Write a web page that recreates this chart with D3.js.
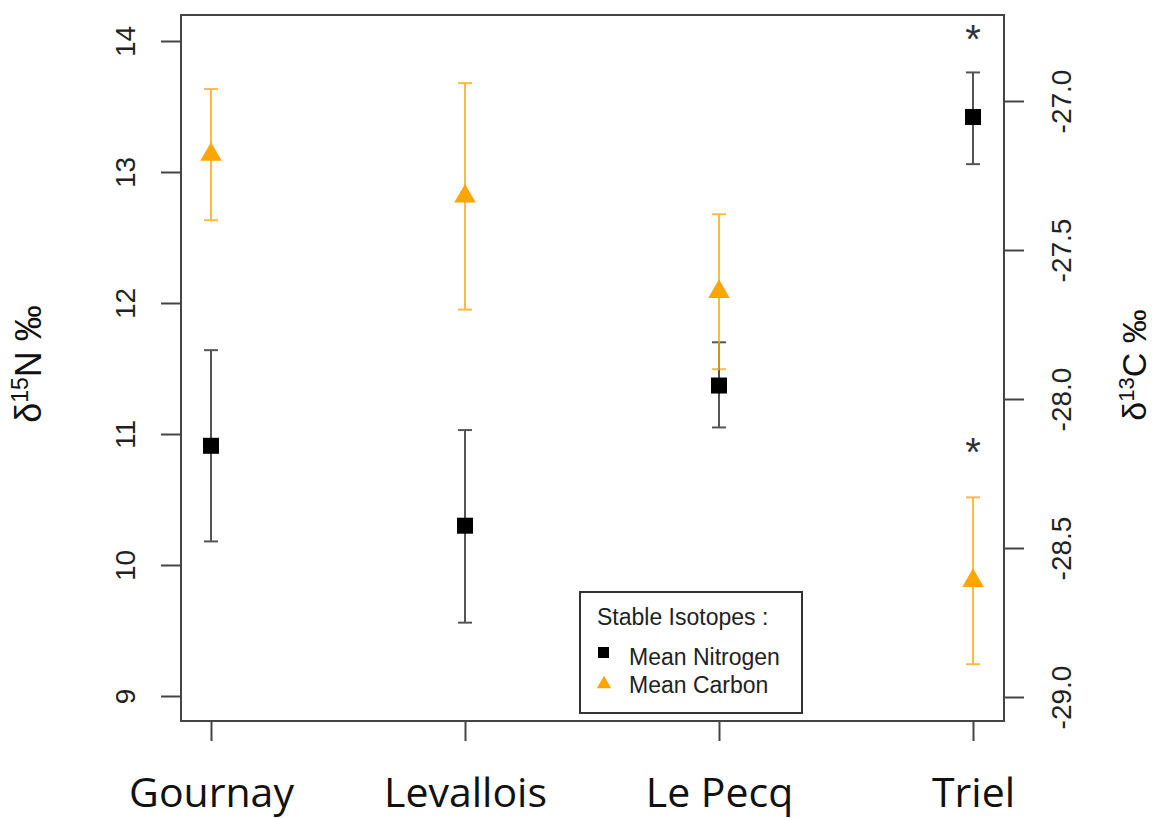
<!DOCTYPE html>
<meta charset="utf-8">
<script src="https://d3js.org/d3.v7.min.js"></script>
<style>
  body { margin: 0; background: #fff; }
  text { font-family: "Liberation Sans", Arial, sans-serif; }
</style>
<div id="chart"></div>
<script>
// sites along the x axis
var sites = ["Gournay", "Levallois", "Le Pecq", "Triel"];

// nitrogen (left axis): mean, lower and upper ends of the error bar
var nMean = [10.91, 10.30, 11.37, 13.42];
var nLow  = [10.18, 9.56, 11.05, 13.06];
var nHigh = [11.64, 11.03, 11.70, 13.76];

// carbon (right axis)
var cMean = [-27.18, -27.32, -27.64, -28.61];
var cLow  = [-27.40, -27.70, -27.90, -28.89];
var cHigh = [-26.96, -26.94, -27.38, -28.33];

// significance marks (which site gets an asterisk)
var starN = ["Triel"];
var starC = ["Triel"];

var nTicks = [9, 10, 11, 12, 13, 14];
var cTicks = [-29.0, -28.5, -28.0, -27.5, -27.0];

var W = 1156, H = 818;
var box = {left: 181, right: 1004, top: 15, bottom: 721};

var svg = d3.select("#chart").append("svg")
  .attr("width", W).attr("height", H);

var x = d3.scalePoint().domain(sites).range([211, 973]);
var yN = d3.scaleLinear().domain([9, 14]).range([696, 41]);
var yC = d3.scaleLinear().domain([-29, -27]).range([697, 101]);

var axisColor = "#444";

// left axis
var gl = svg.append("g")
  .attr("transform", "translate(" + box.left + ",0)")
  .call(d3.axisLeft(yN).tickValues(nTicks).tickSize(20).tickFormat(d3.format("d")));
gl.select(".domain").remove();
gl.selectAll(".tick line").attr("stroke", axisColor).attr("stroke-width", 2);
gl.selectAll(".tick text")
  .attr("transform", "rotate(-90)")
  .attr("x", 0).attr("y", -56).attr("dy", null)
  .attr("dominant-baseline", "central")
  .attr("text-anchor", "middle")
  .style("font-size", "28px").attr("fill", "#222");

// right axis
var gr = svg.append("g")
  .attr("transform", "translate(" + box.right + ",0)")
  .call(d3.axisRight(yC).tickValues(cTicks).tickSize(20).tickFormat(d3.format(".1f")));
gr.select(".domain").remove();
gr.selectAll(".tick line").attr("stroke", axisColor).attr("stroke-width", 2);
gr.selectAll(".tick text")
  .text(function(d) { return d3.format(".1f")(d).replace("\u2212", "-"); })
  .attr("transform", "rotate(-90)")
  .attr("x", 0).attr("y", 57).attr("dy", null)
  .attr("dominant-baseline", "central")
  .attr("text-anchor", "middle")
  .style("font-size", "28px").attr("fill", "#222");

// bottom axis
var gb = svg.append("g")
  .attr("transform", "translate(0," + box.bottom + ")")
  .call(d3.axisBottom(x).tickSize(20));
gb.select(".domain").remove();
gb.selectAll(".tick line").attr("stroke", axisColor).attr("stroke-width", 2);
gb.selectAll(".tick text")
  .attr("y", 86).attr("dy", null)
  .style("font-family", "'Open Sans', sans-serif")
  .style("font-size", "41px").attr("fill", "#111");

// plot frame
svg.append("rect")
  .attr("x", box.left).attr("y", box.top)
  .attr("width", box.right - box.left).attr("height", box.bottom - box.top)
  .attr("fill", "none").attr("stroke", axisColor).attr("stroke-width", 2);

// axis titles
var tl = svg.append("text")
  .attr("transform", "translate(41,364) rotate(-90)")
  .attr("text-anchor", "middle")
  .style("font-size", "36px").attr("fill", "#111");
tl.append("tspan").text("\u03b4");
tl.append("tspan").attr("dy", -13).style("font-size", "23px").text("15");
tl.append("tspan").attr("dy", 13).text("N \u2030");

var tr = svg.append("text")
  .attr("transform", "translate(1146,365) rotate(-90)")
  .attr("text-anchor", "middle")
  .style("font-size", "34px").attr("fill", "#111");
tr.append("tspan").text("\u03b4");
tr.append("tspan").attr("dy", -12).style("font-size", "22px").text("13");
tr.append("tspan").attr("dy", 12).text("C \u2030");

var capHalf = 7;

// error bars
function errorBars(lo, hi, y, color, opacity) {
  var g = svg.append("g").attr("stroke", color).attr("stroke-width", 2).attr("opacity", opacity);
  sites.forEach(function(s, i) {
    var cx = x(s);
    g.append("line").attr("x1", cx).attr("x2", cx).attr("y1", y(lo[i])).attr("y2", y(hi[i]));
    g.append("line").attr("x1", cx - capHalf).attr("x2", cx + capHalf).attr("y1", y(lo[i])).attr("y2", y(lo[i]));
    g.append("line").attr("x1", cx - capHalf).attr("x2", cx + capHalf).attr("y1", y(hi[i])).attr("y2", y(hi[i]));
  });
}

errorBars(nLow, nHigh, yN, "#555", 1);
errorBars(cLow, cHigh, yC, "#ffa500", 0.75);

// nitrogen means: squares
svg.selectAll(".nmean")
  .data(sites)
  .enter().append("rect")
  .attr("class", "nmean")
  .attr("x", function(d) { return x(d) - 8; })
  .attr("y", function(d, i) { return yN(nMean[i]) - 8; })
  .attr("width", 16).attr("height", 16)
  .attr("fill", "#000");

// carbon means: triangles
svg.selectAll(".cmean")
  .data(sites)
  .enter().append("path")
  .attr("class", "cmean")
  .attr("d", d3.symbol().type(d3.symbolTriangle).size(200))
  .attr("transform", function(d, i) { return "translate(" + x(d) + "," + yC(cMean[i]) + ")"; })
  .attr("fill", "#ffa500");

// asterisks
svg.selectAll(".starN")
  .data(starN)
  .enter().append("text")
  .attr("x", function(d) { return x(d); })
  .attr("y", 53)
  .attr("text-anchor", "middle")
  .style("font-size", "40px").attr("fill", "#333")
  .text("*");
svg.selectAll(".starC")
  .data(starC)
  .enter().append("text")
  .attr("x", function(d) { return x(d); })
  .attr("y", 466)
  .attr("text-anchor", "middle")
  .style("font-size", "40px").attr("fill", "#333")
  .text("*");

// legend
var lg = svg.append("g");
lg.append("rect")
  .attr("x", 580).attr("y", 592).attr("width", 222).attr("height", 121)
  .attr("fill", "#fff").attr("stroke", "#333").attr("stroke-width", 2);
lg.append("text").attr("x", 597).attr("y", 625)
  .style("font-size", "23px").attr("fill", "#222").text("Stable Isotopes :");
lg.append("rect").attr("x", 598).attr("y", 647).attr("width", 11).attr("height", 11).attr("fill", "#000");
lg.append("text").attr("x", 629).attr("y", 665)
  .style("font-size", "23px").attr("fill", "#222").text("Mean Nitrogen");
lg.append("path")
  .attr("d", d3.symbol().type(d3.symbolTriangle).size(90))
  .attr("transform", "translate(604,684)")
  .attr("fill", "#ffa500");
lg.append("text").attr("x", 629).attr("y", 693)
  .style("font-size", "23px").attr("fill", "#222").text("Mean Carbon");
</script>
